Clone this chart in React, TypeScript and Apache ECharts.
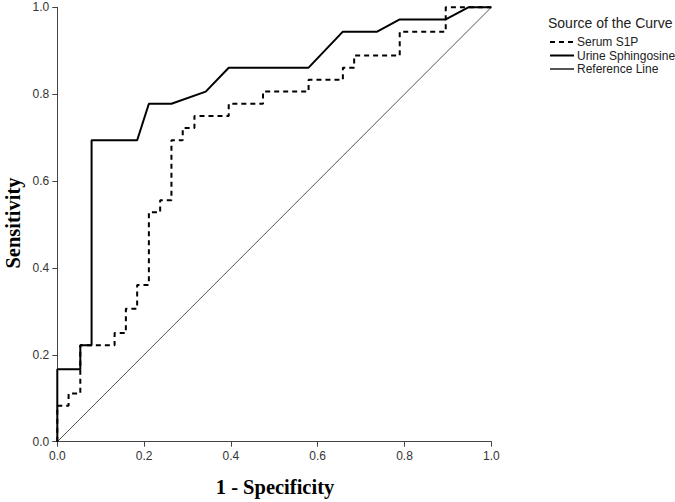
import React, { useEffect, useRef } from "react";
import * as echarts from "echarts";

// ROC curve data (1 - Specificity, Sensitivity)
const urineFpr = [0, 0, 0.053, 0.053, 0.079, 0.079, 0.184, 0.211, 0.263, 0.342, 0.395, 0.579, 0.658, 0.737, 0.789, 0.895, 0.947, 1];
const urineTpr = [0, 0.167, 0.167, 0.222, 0.222, 0.694, 0.694, 0.778, 0.778, 0.806, 0.861, 0.861, 0.944, 0.944, 0.972, 0.972, 1, 1];

const serumFpr = [0, 0, 0.026, 0.026, 0.053, 0.053, 0.132, 0.132, 0.158, 0.158, 0.184, 0.184, 0.211, 0.211, 0.237, 0.237, 0.263, 0.263, 0.289, 0.289, 0.316, 0.316, 0.395, 0.395, 0.474, 0.474, 0.579, 0.579, 0.658, 0.658, 0.684, 0.684, 0.789, 0.789, 0.895, 0.895, 1];
const serumTpr = [0, 0.083, 0.083, 0.111, 0.111, 0.222, 0.222, 0.25, 0.25, 0.306, 0.306, 0.361, 0.361, 0.528, 0.528, 0.556, 0.556, 0.694, 0.694, 0.722, 0.722, 0.75, 0.75, 0.778, 0.778, 0.806, 0.806, 0.833, 0.833, 0.861, 0.861, 0.889, 0.889, 0.944, 0.944, 1, 1];

const refX = [0, 1];
const refY = [0, 1];

const seriesNames = ["Serum S1P", "Urine Sphingosine", "Reference Line"];
const legendTitle = "Source of the Curve";
const xTitle = "1 - Specificity";
const yTitle = "Sensitivity";

const zip = (xs: number[], ys: number[]) => xs.map((x, i) => [x, ys[i]]);

export default function App() {
  const ref = useRef<HTMLDivElement>(null);
  useEffect(() => {
    if (!ref.current) return;
    const chart = echarts.init(ref.current, null, { renderer: "svg" });
    const axisCommon = {
      type: "value" as const,
      min: 0,
      max: 1,
      interval: 0.2,
      splitLine: { show: false },
      axisLine: { show: true, lineStyle: { color: "#444", width: 1 } },
      axisTick: { show: true, length: 5, lineStyle: { color: "#444" } },
      axisLabel: {
        formatter: (v: number) => v.toFixed(1),
        fontFamily: "Arial, 'Liberation Sans', sans-serif",
        fontSize: 12,
        color: "#333",
        margin: 8,
      },
    };
    chart.setOption({
      animation: false,
      backgroundColor: "#fff",
      grid: { left: 57.3, right: 183.7, top: 7.3, bottom: 60.3, containLabel: false },
      xAxis: { ...axisCommon },
      yAxis: { ...axisCommon },
      legend: {
        orient: "vertical",
        left: 549,
        top: 36,
        itemWidth: 24,
        itemHeight: 12,
        itemGap: 1.5,
        data: seriesNames,
        itemStyle: { opacity: 0 },
        textStyle: {
          fontFamily: "Arial, 'Liberation Sans', sans-serif",
          fontSize: 12,
          color: "#222",
          padding: [0, 0, 0, -2],
        },
        padding: 0,
      },
      graphic: [
        {
          type: "text",
          left: 548,
          top: 16,
          style: {
            text: legendTitle,
            fontFamily: "Arial, 'Liberation Sans', sans-serif",
            fontSize: 14,
            fill: "#222",
          },
        },
        {
          type: "text",
          x: 275,
          y: 487,
          style: {
            text: xTitle,
            fontFamily: "'Liberation Serif', 'Times New Roman', serif",
            fontWeight: "bold",
            fontSize: 20.5,
            fill: "#000",
            align: "center",
            verticalAlign: "middle",
          },
        },
        {
          type: "text",
          x: 13,
          y: 223,
          rotation: Math.PI / 2,
          style: {
            text: yTitle,
            fontFamily: "'Liberation Serif', 'Times New Roman', serif",
            fontWeight: "bold",
            fontSize: 20.5,
            fill: "#000",
            align: "center",
            verticalAlign: "middle",
          },
        },
      ],
      series: [
        {
          name: seriesNames[2],
          type: "line",
          data: zip(refX, refY),
          symbol: "none",
          clip: false,
          lineStyle: { color: "#555", width: 1 },
          itemStyle: { color: "#555" },
          z: 1,
        },
        {
          name: seriesNames[1],
          type: "line",
          data: zip(urineFpr, urineTpr),
          symbol: "none",
          clip: false,
          lineStyle: { color: "#000", width: 2 },
          itemStyle: { color: "#000" },
          z: 2,
        },
        {
          name: seriesNames[0],
          type: "line",
          data: zip(serumFpr, serumTpr),
          symbol: "none",
          clip: false,
          lineStyle: { color: "#000", width: 2, type: [5, 4] },
          itemStyle: { color: "#000" },
          z: 3,
        },
      ],
    });
    return () => chart.dispose();
  }, []);
  return (
    <div
      ref={ref}
      style={{ position: "fixed", left: 0, top: 0, width: 675, height: 502, background: "#fff" }}
    />
  );
}
